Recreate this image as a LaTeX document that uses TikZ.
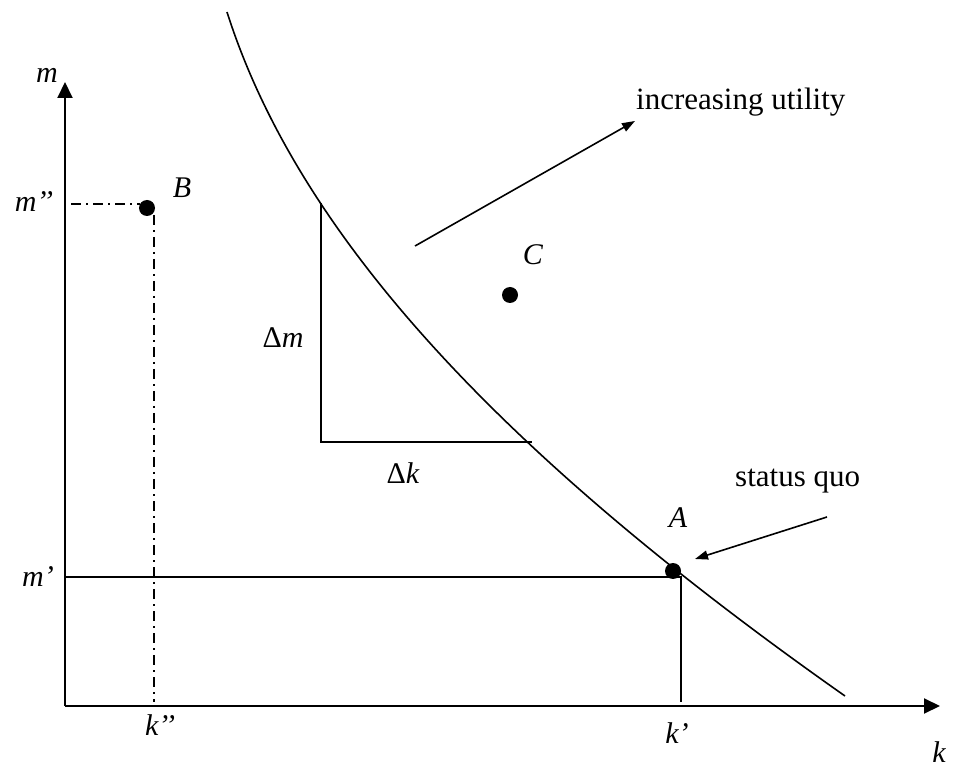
\documentclass[tikz,border=0pt]{standalone}
\usepackage{fontspec}
\setmainfont{Liberation Serif}
\usetikzlibrary{arrows.meta}
\begin{document}
\begin{tikzpicture}[x=1pt,y=-1pt,
  lbl/.style={inner sep=0pt,font=\fontsize{30}{36}\selectfont\itshape},
  txt/.style={inner sep=0pt,font=\fontsize{31}{37}\selectfont},
  dot/.style={circle,fill=black,inner sep=0pt,minimum size=16pt},
  axis/.style={line width=2pt,-{Triangle[length=16pt,width=15pt]}},
  thin line/.style={line width=1.6pt},
  dashdot line/.style={line width=1.6pt,dash pattern=on 10pt off 5pt on 2pt off 5pt},
  note arrow/.style={line width=1.6pt,-{Triangle[length=13pt,width=9pt]}}]
\useasboundingbox (0,0) rectangle (954,767);
% axes
\coordinate (O) at (65,706);
\coordinate (ytop) at (65,82);
\coordinate (xend) at (940,706);
\draw[axis] (O) -- (ytop);
\draw[axis] (O) -- (xend);
% indifference curve
\coordinate (cs) at (227,12);
\coordinate (ce) at (845,696);
\draw[thin line] (cs) .. controls (297,232) and (495,450) .. (ce);
% points
\node[dot] (A) at (673,571) {};
\node[dot] (B) at (147,208) {};
\node[dot] (C) at (510,295) {};
% A guides
\coordinate (mA) at (65,577);
\coordinate (kAtop) at (681,577);
\coordinate (kA) at (681,702);
\draw[thin line] (mA) -- (kAtop) -- (kA);
% B guides
\coordinate (mB) at (71,204);
\coordinate (Bleft) at (140,204);
\coordinate (Bbot) at (154,215);
\coordinate (kB) at (154,702);
\draw[dashdot line] (mB) -- (Bleft);
\draw[dashdot line] (Bbot) -- (kB);
% triangle
\coordinate (t1) at (321,203);
\coordinate (t2) at (321,442);
\coordinate (t3) at (532,442);
\draw[thin line] (t1) -- (t2) -- (t3);
% annotation arrows
\coordinate (iu1) at (415,246);
\coordinate (iu2) at (635,121);
\draw[note arrow] (iu1) -- (iu2);
\coordinate (sq1) at (827,517);
\coordinate (sq2) at (695,559);
\draw[note arrow] (sq1) -- (sq2);
% labels
\node[lbl] (lm) at (47,75) {m};
\node[lbl] (lmpp) at (34,202) {m’’};
\node[lbl] (lB) at (182,188) {B};
\node[lbl] (lC) at (533,255) {C};
\node[lbl] (ldm) at (283,338) {\upshape Δ\itshape m};
\node[lbl] (ldk) at (403,473) {\upshape Δ\itshape k};
\node[lbl] (lA) at (678,518) {A};
\node[lbl] (lmp) at (38,577) {m’};
\node[lbl] (lkpp) at (160,725) {k’’};
\node[lbl] (lkp) at (677,733) {k’};
\node[lbl] (lk) at (939,752) {k};
\node[txt,anchor=base west] (inc) at (636,110) {increasing utility};
\node[txt,anchor=base west] (sq) at (735,486) {status quo};
\end{tikzpicture}
\end{document}
